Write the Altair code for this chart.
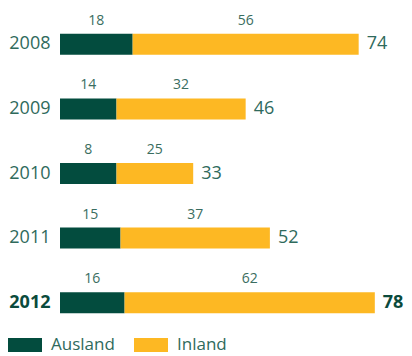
import altair as alt
import pandas as pd

years = ["2008", "2009", "2010", "2011", "2012"]
ausland = [18, 14, 14, 15, 16]          # bar lengths as drawn
inland = [56, 32, 19, 37, 62]
ausland_labels = ["18", "14", "8", "15", "16"]
inland_labels = ["56", "32", "25", "37", "62"]
total_labels = ["74", "46", "33", "52", "78"]

rows = []
for i, y in enumerate(years):
    a, b = ausland[i], inland[i]
    rows.append({"year": y, "type": "Ausland", "start": 0, "end": a, "mid": a / 2,
                 "label": ausland_labels[i]})
    rows.append({"year": y, "type": "Inland", "start": a, "end": a + b, "mid": a + b / 2,
                 "label": inland_labels[i]})
df = pd.DataFrame(rows)
tot = pd.DataFrame({"year": years, "total": [a + b for a, b in zip(ausland, inland)],
                    "label": total_labels})

FONT = "Open Sans"
TXT = "#2f6a5c"
DARK = "#034c3e"
YEL = "#fdb823"

yenc = alt.Y("year:N", sort=years, title=None,
             scale=alt.Scale(paddingInner=0, paddingOuter=0),
             axis=alt.Axis(ticks=False, domain=False, labelFontSize=18, labelFont=FONT,
                           labelColor=alt.ExprRef("datum.value == '2012' ? '#0b4a3c' : '#2f6a5c'"),
                           labelFontWeight=alt.ExprRef("datum.value == '2012' ? 'bold' : 'normal'"),
                           labelPadding=10, grid=False))
xscale = alt.Scale(domain=[0, 83], nice=False, zero=True)

bars = alt.Chart(df).mark_bar(size=21).encode(
    y=yenc,
    x=alt.X("start:Q", scale=xscale, axis=None),
    x2="end:Q",
    color=alt.Color("type:N", scale=alt.Scale(domain=["Ausland", "Inland"], range=[DARK, YEL]),
                    legend=alt.Legend(title=None, orient="none", direction="horizontal",
                                      legendX=-52, legendY=316,
                                      symbolType="M-1,-0.41L1,-0.41L1,0.41L-1,0.41Z",
                                      symbolSize=1156, symbolStrokeWidth=0,
                                      labelFontSize=17, labelFont=FONT, labelColor=TXT,
                                      labelOffset=9, columnPadding=19)),
)

seg_text = alt.Chart(df).mark_text(baseline="bottom", dy=-16.5, fontSize=14, font=FONT,
                                   color="#3a6d60").encode(
    y=alt.Y("year:N", sort=years),
    x=alt.X("mid:Q", scale=xscale),
    text="label:N",
)

tot_base = alt.Chart(tot).encode(
    y=alt.Y("year:N", sort=years),
    x=alt.X("total:Q", scale=xscale),
    text="label:N",
)
tot_text = tot_base.mark_text(align="left", baseline="middle", dx=8, fontSize=18,
                              font=FONT, color=TXT).transform_filter("datum.year != '2012'")
tot_bold = tot_base.mark_text(align="left", baseline="middle", dx=8, fontSize=18,
                              font=FONT, color="#0b4a3c", fontWeight="bold"
                              ).transform_filter("datum.year == '2012'")

chart = alt.layer(bars, seg_text, tot_text, tot_bold).properties(
    width=335, height=323,
    autosize=alt.AutoSizeParams(type="none"),
    padding={"left": 52, "top": 4, "right": 9, "bottom": 21},
).configure_view(stroke=None)

chart.save("out.html", embed_options={"renderer": "svg", "actions": False})
